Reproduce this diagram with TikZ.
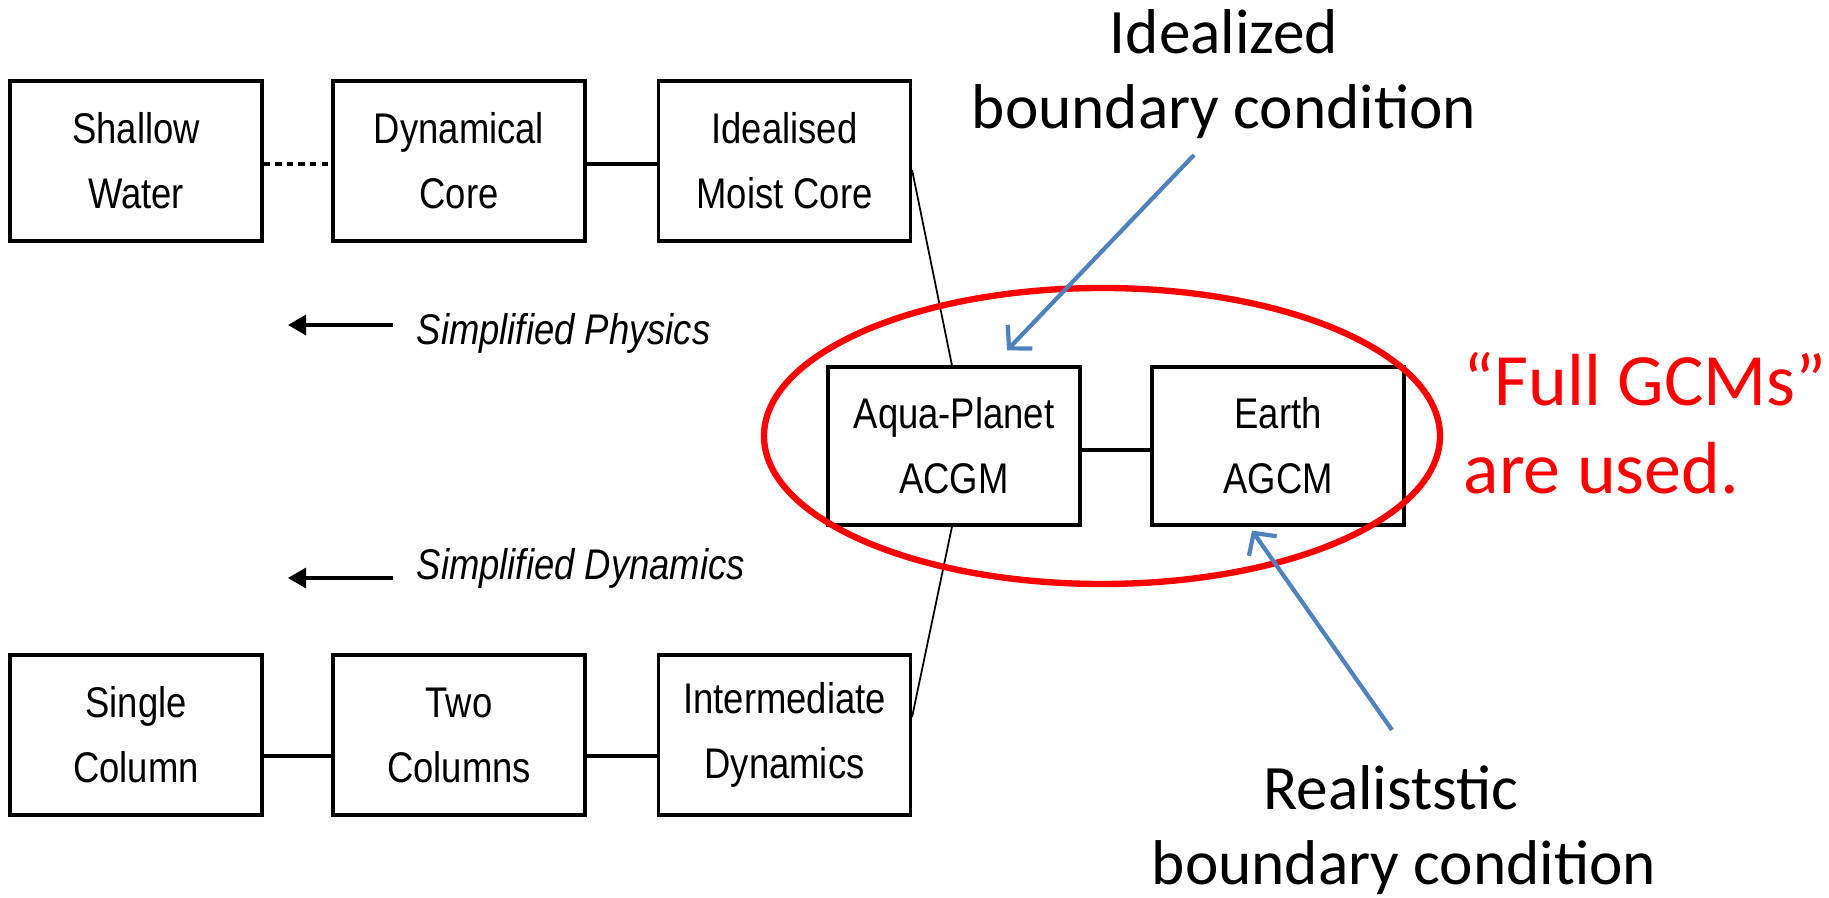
\documentclass[tikz,border=0pt]{standalone}
\usepackage{fontspec}
\usepackage{tikz}
\usetikzlibrary{arrows.meta}
\newfontfamily\boxfont[FakeStretch=0.85]{Liberation Sans}
\newfontfamily\notefont{Carlito}
\definecolor{noteblue}{RGB}{79,129,189}

\begin{document}
\begin{tikzpicture}[>={Triangle[length=0.18cm,width=0.2cm]},
		model/.style={draw, line width=0.9pt, minimum width=2.52cm, minimum height=1.6cm, align=center, inner sep=0pt,
			font=\boxfont\fontsize{12.2}{18.5}\selectfont},
		link/.style={line width=0.9pt},
		note/.style={font=\notefont\fontsize{18}{21.3}\selectfont, align=center, inner sep=0pt},
		hint/.style={noteblue, line width=1.2pt, -{Straight Barb[length=0.16cm,width=0.34cm]}}]
		\useasboundingbox (0,0) rectangle (18.29,8.98);
		\def\yt{7.37}\def\yb{1.63}\def\ym{4.52}
		% top row
		\node[model] (sw) at (1.36,\yt) {Shallow\\Water};
		\node[model] (dc) at (4.59,\yt) {Dynamical\\Core};
		\node[model] (imc) at (7.845,\yt) {Idealised\\Moist Core};
		\draw[link, dash pattern=on 1.8pt off 1.5pt] ([yshift=-0.03cm]sw.east) -- ([yshift=-0.03cm]dc.west);
		\draw[link] ([yshift=-0.03cm]dc.east) -- ([yshift=-0.03cm]imc.west);
		% bottom row
		\node[model] (sc) at (1.36,\yb) {Single\\Column};
		\node[model] (tc) at (4.59,\yb) {Two\\Columns};
		\node[model] (idy) at (7.845,\yb) {Intermediate\\Dynamics};
		\draw[link] ([yshift=-0.21cm]sc.east) -- ([yshift=-0.21cm]tc.west);
		\draw[link] ([yshift=-0.21cm]tc.east) -- ([yshift=-0.21cm]idy.west);
		% full models
		\node[model, minimum height=1.58cm] (aqua) at (9.54,\ym) {Aqua-Planet\\ACGM};
		\node[model, minimum height=1.58cm] (earth) at (12.78,\ym) {Earth\\AGCM};
		\draw[link] ([yshift=-0.04cm]aqua.east) -- ([yshift=-0.04cm]earth.west);
		\draw[line width=0.5pt] ([yshift=-0.09cm]imc.east) -- ([xshift=-0.02cm]aqua.north);
		\draw[line width=0.5pt] ([xshift=-0.02cm]aqua.south) -- ([yshift=0.18cm]idy.east);
		% simplification arrows
		\node[anchor=base west, inner sep=0pt, font=\boxfont\itshape\fontsize{12.2}{19}\selectfont] (phys) at (4.16,5.53) {Simplified Physics};
		\node[anchor=base west, inner sep=0pt, font=\boxfont\itshape\fontsize{12.2}{19}\selectfont] (dyn) at (4.16,3.18) {Simplified Dynamics};
		\coordinate (ptail) at (3.93,5.73); \coordinate (phead) at (2.88,5.73);
		\coordinate (dtail) at (3.93,3.20); \coordinate (dhead) at (2.88,3.20);
		\draw[->, line width=0.9pt] (ptail) -- (phead);
		\draw[->, line width=0.9pt] (dtail) -- (dhead);
		% red ring and remark
		\draw[red, line width=1.8pt] (11.02,4.62) ellipse [x radius=3.38, y radius=1.48];
		\node[anchor=north west, align=left, inner sep=0pt, text=red, font=\notefont\fontsize{21}{25}\selectfont] (full) at (14.63,5.46) {“Full GCMs”\\are used.};
		% boundary notes
		\node[note, anchor=north] (ideal) at (12.24,8.89) {Idealized\\boundary condition};
		\node[note, anchor=north] (real) at (14.04,1.33) {Realiststic\hspace*{0.26cm}\\boundary condition};
		\coordinate (itail) at (11.94,7.43);
		\coordinate (rtail) at (13.92,1.68);
		\draw[hint] (itail) -- ([xshift=0.53cm,yshift=0.15cm]aqua.north);
		\draw[hint] (rtail) -- ([xshift=-0.26cm,yshift=-0.04cm]earth.south);
	\end{tikzpicture}
\end{document}
